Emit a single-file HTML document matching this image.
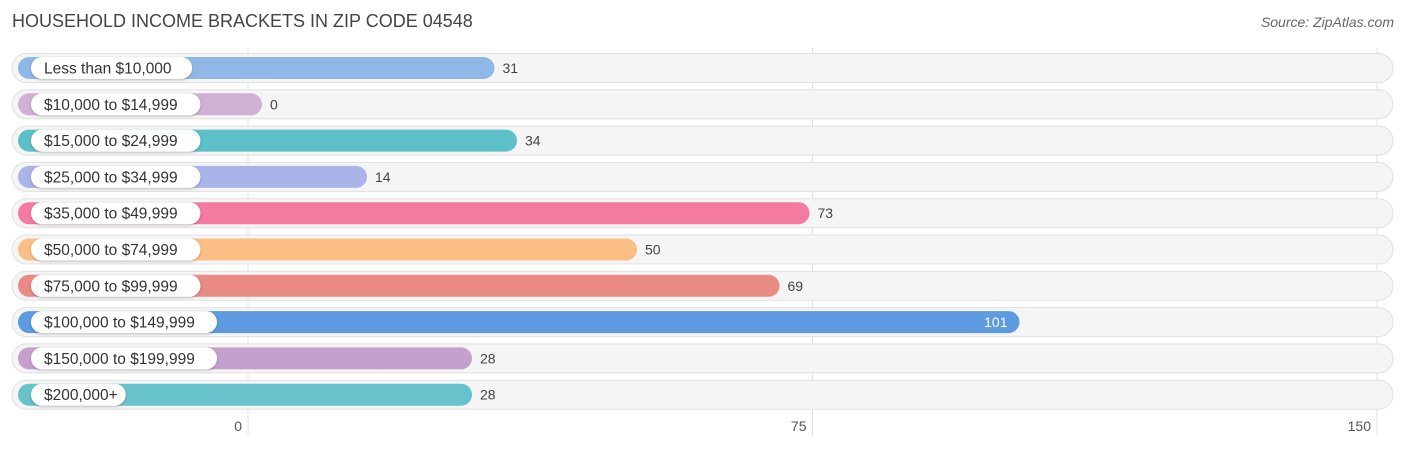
<!DOCTYPE html>
<html><head><meta charset="utf-8"><style>
body{margin:0;background:#fff;font-family:"Liberation Sans",sans-serif}
</style></head><body>
<svg id="c" width="1406" height="450" xmlns="http://www.w3.org/2000/svg" style="display:block">
<defs><filter id="sh" x="-10%" y="-30%" width="120%" height="160%"><feDropShadow dx="0" dy="1" stdDeviation="1.2" flood-color="#000" flood-opacity="0.25"/></filter></defs>
<text x="12" y="27" font-size="18" fill="#444">HOUSEHOLD INCOME BRACKETS IN ZIP CODE 04548</text>
<text x="1394" y="27" font-size="14" fill="#666" font-style="italic" text-anchor="end">Source: ZipAtlas.com</text>
<g id="grid"></g><g id="rows"></g>
</svg>
<script>
const categories=["Less than $10,000","$10,000 to $14,999","$15,000 to $24,999","$25,000 to $34,999","$35,000 to $49,999","$50,000 to $74,999","$75,000 to $99,999","$100,000 to $149,999","$150,000 to $199,999","$200,000+"];
const values=[31,0,34,14,73,50,69,101,28,28];
const colors=["#8fb8e6","#d0b0d4","#5dbfc8","#aab4e8","#f47aa0","#fbbf85","#ea8a84","#5e9ae0","#c6a0cc","#68c2cc"];
const ticks=[0,75,150];
const NS="http://www.w3.org/2000/svg";
const x0=248,pxPer=(1377-248)/150;
const xs=v=>x0+v*pxPer;
const barEnd=v=>262+v*7.5;
const rowY=i=>68+i*36.3;
function el(t,a,p){const e=document.createElementNS(NS,t);for(const k in a)e.setAttribute(k,a[k]);p.appendChild(e);return e;}
const grid=document.getElementById('grid'),rows=document.getElementById('rows');
ticks.forEach(t=>{
 const l=el('line',{x1:xs(t),x2:xs(t),y1:48,y2:436,stroke:'#e2e2e2','stroke-width':1},grid);
 
 
 const tx=el('text',{x:xs(t)-6,y:431,'font-size':14,fill:'#555','text-anchor':'end'},grid);
 tx.textContent=t;
 
 
});
categories.forEach((c,i)=>{
 const cy=rowY(i);
 const g=el('g',{},rows);
 
 
 const bg=el('rect',{x:12,y:cy-14.5,width:1381,height:29,rx:14.5,fill:'#f5f5f5',stroke:'#e0e0e0','stroke-width':1},g);
 
 
 const w=barEnd(values[i])-18;
 const b=el('rect',{x:18,y:cy-11,width:w,height:22,rx:11,fill:colors[i]},g);
 
 
 const lw=c.length*8.3+20;
 const lp=el('rect',{x:31,y:cy-11,width:lw,height:22,rx:11,fill:'#fff',filter:'url(#sh)'},g);
 
 
 const lt=el('text',{x:44,y:cy+5.5,'font-size':15.5,fill:'#333'},g);
 lt.textContent=c;
 
 
 const inside=values[i]>90;
 const vt=el('text',{x:inside?barEnd(values[i])-12:barEnd(values[i])+8,y:cy+5,'font-size':14,fill:inside?'#fff':'#444','text-anchor':inside?'end':'start'},g);
 vt.textContent=values[i];
 
 
});
</script>
</body></html>
